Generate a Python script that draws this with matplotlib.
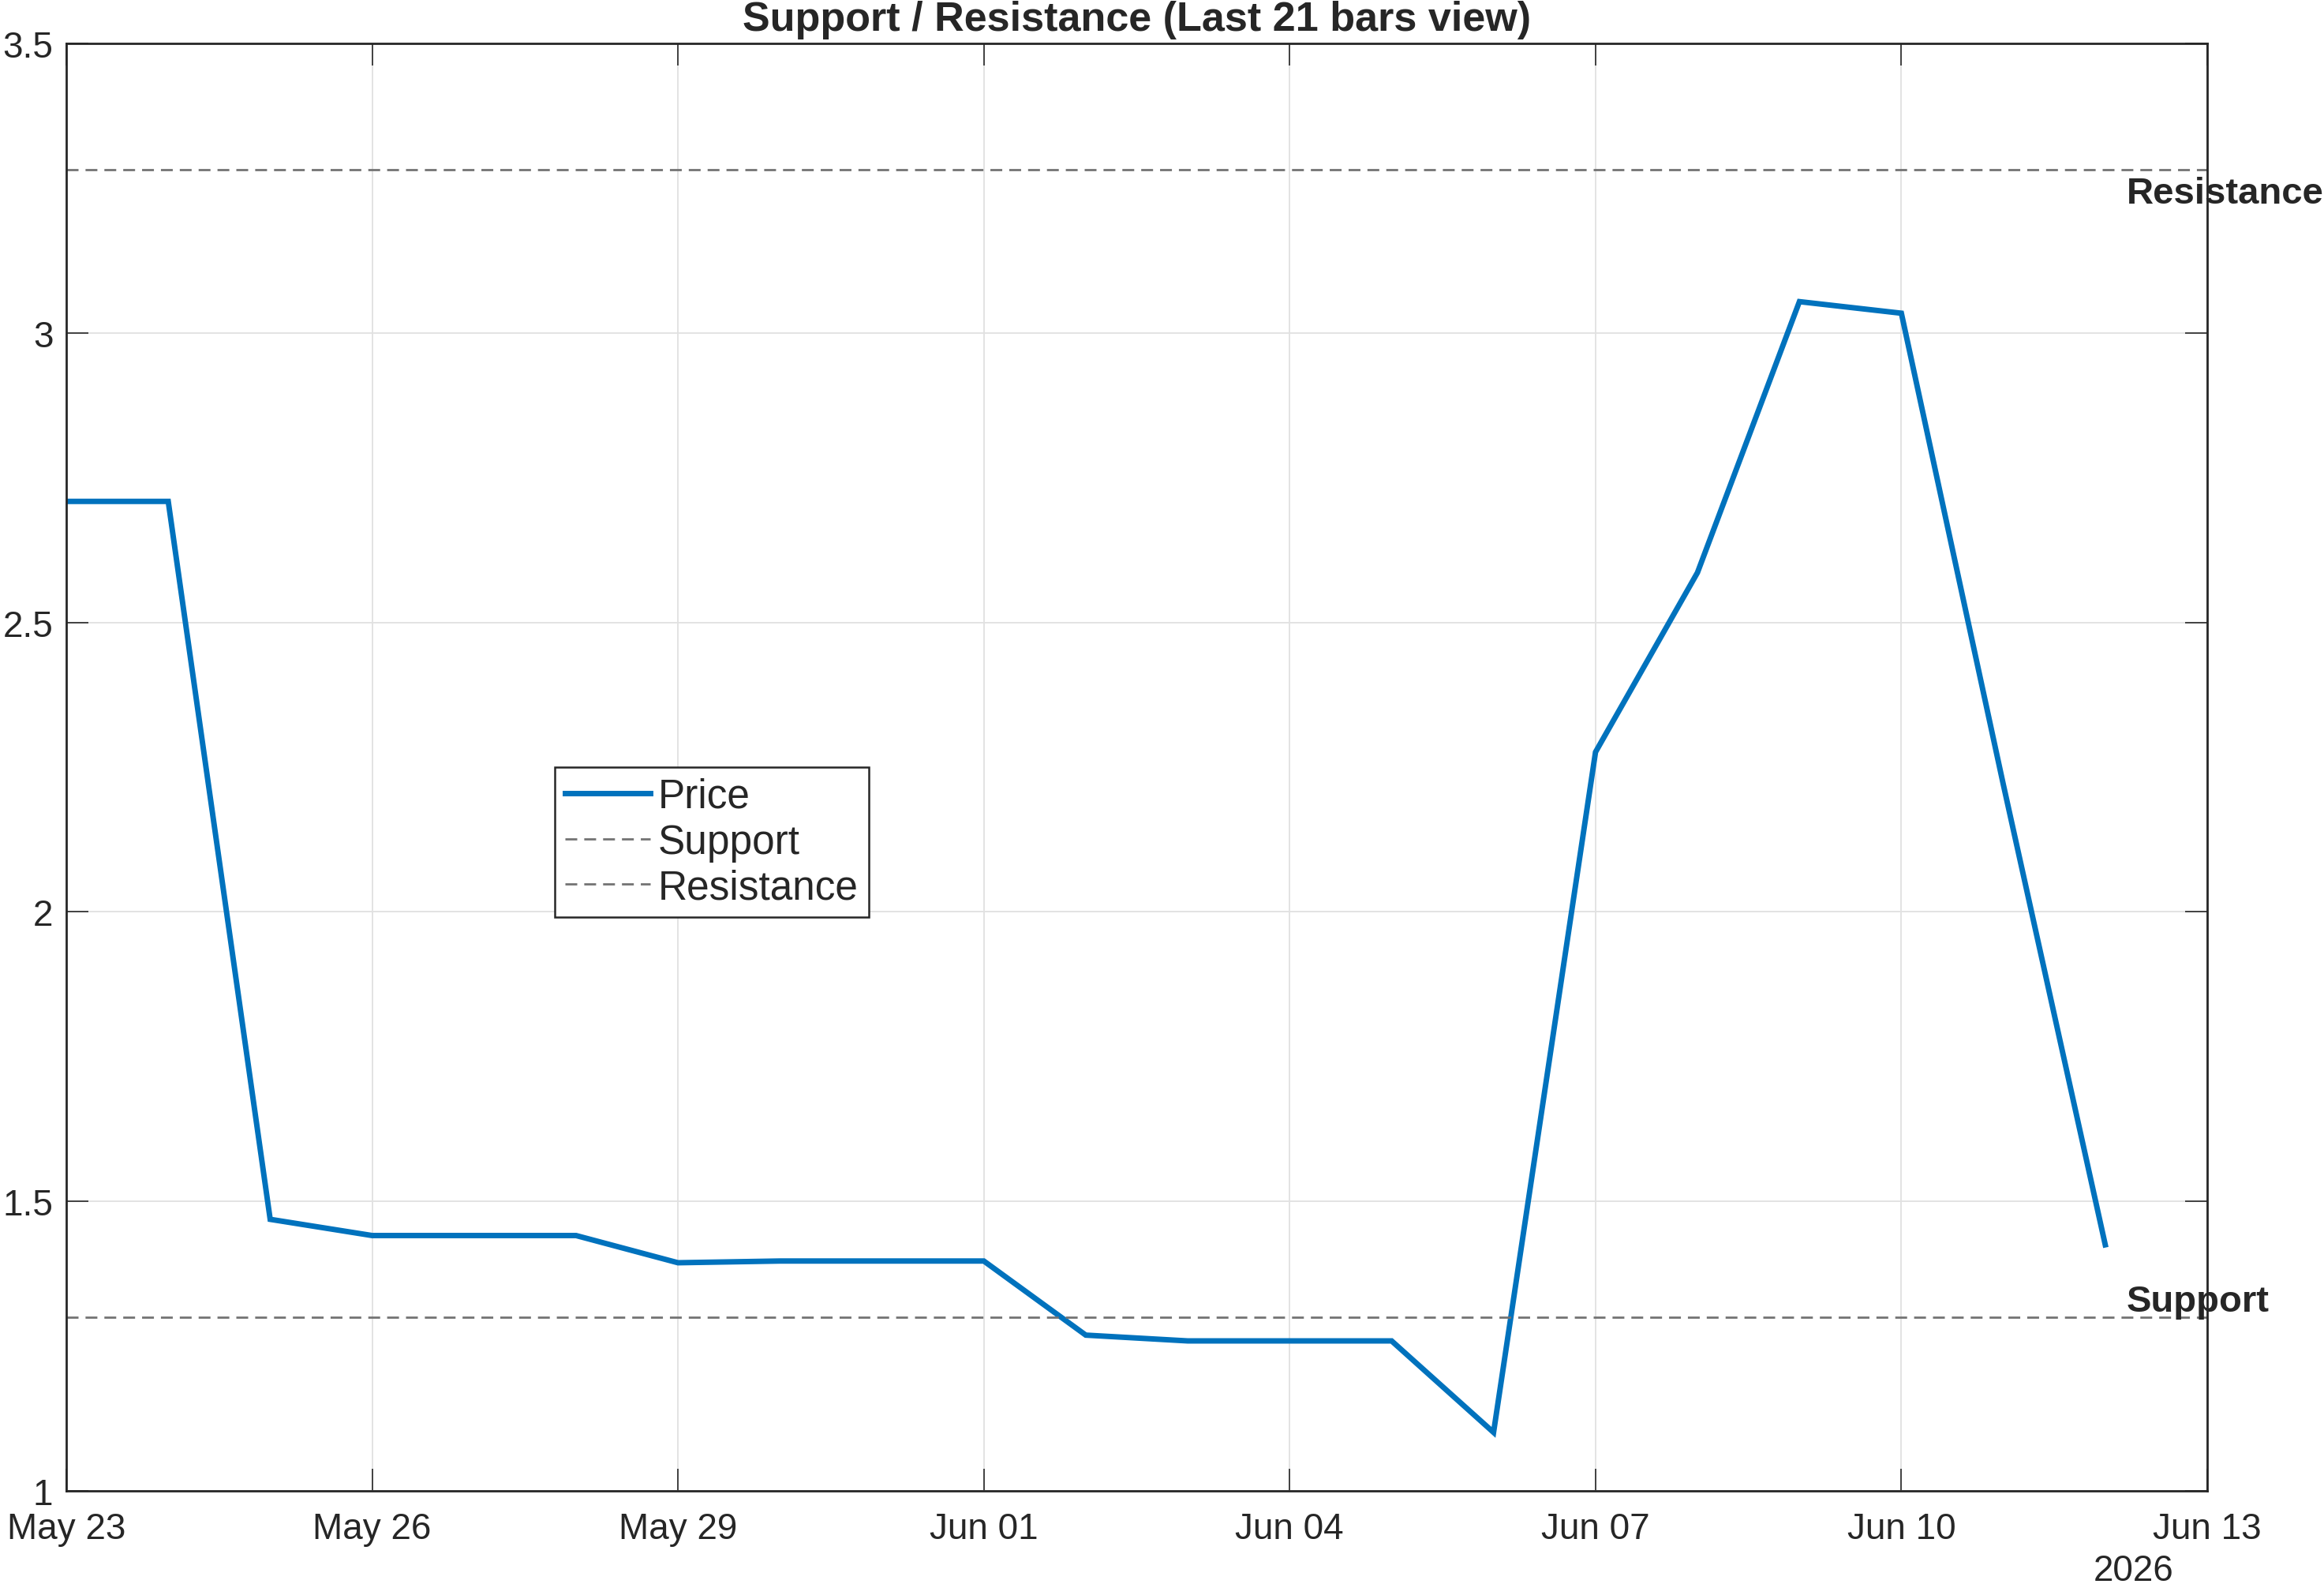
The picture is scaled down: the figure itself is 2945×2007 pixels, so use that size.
import matplotlib.pyplot as plt
import matplotlib.dates as mdates
import numpy as np

plt.rcParams['font.family'] = ['Liberation Sans', 'DejaVu Sans']

# last 21 bars
dates = ['2026-05-23', '2026-05-24', '2026-05-25', '2026-05-26', '2026-05-27',
         '2026-05-28', '2026-05-29', '2026-05-30', '2026-05-31', '2026-06-01',
         '2026-06-02', '2026-06-03', '2026-06-04', '2026-06-05', '2026-06-06',
         '2026-06-07', '2026-06-08', '2026-06-09', '2026-06-10', '2026-06-11',
         '2026-06-12']
prices = [2.709, 2.709, 1.469, 1.441, 1.441, 1.441, 1.394, 1.397, 1.397, 1.397,
          1.269, 1.259, 1.259, 1.259, 1.101, 2.276, 2.586, 3.054, 3.034, 2.22,
          1.425]
support = 1.30
resistance = 3.282

x_start = '2026-05-23'
x_end = '2026-06-13'
tick_dates = ['2026-05-23', '2026-05-26', '2026-05-29', '2026-06-01',
              '2026-06-04', '2026-06-07', '2026-06-10', '2026-06-13']
y_ticks = [1, 1.5, 2, 2.5, 3, 3.5]
y_tick_labels = ['1', '1.5', '2', '2.5', '3', '3.5']

x = np.array(dates, dtype='datetime64[D]')
txt = '#262626'
price_color = '#0072BD'
level_color = '#737373'

fig = plt.figure(figsize=(29.45, 20.08), dpi=100)
ax = fig.add_axes([84 / 2945, 1 - 1890 / 2008, (2797 - 84) / 2945, (1890 - 56) / 2008])

ax.plot(x, prices, color=price_color, linewidth=5.0, label='Price', solid_joinstyle='miter')
dash = (0, (5.4, 3.2))
ax.axhline(support, color=level_color, linewidth=2.0, linestyle=dash, label='Support')
ax.axhline(resistance, color=level_color, linewidth=2.0, linestyle=dash, label='Resistance')

# labels next to the levels
lab_x = x[-1] + np.timedelta64(5, 'h')
ax.text(lab_x, resistance - 0.011, 'Resistance', fontsize=34, fontweight='bold',
        color=txt, ha='left', va='top', clip_on=False)
ax.text(lab_x, support + 0.011, 'Support', fontsize=34, fontweight='bold',
        color=txt, ha='left', va='baseline', clip_on=False)

ax.set_xlim(np.datetime64(x_start), np.datetime64(x_end))
ax.set_ylim(1, 3.5)
ax.set_xticks(np.array(tick_dates, dtype='datetime64[D]'))
ax.xaxis.set_major_formatter(mdates.DateFormatter('%b %d'))
ax.set_yticks(y_ticks)
ax.set_yticklabels(y_tick_labels)

ax.grid(True, color='#e1e1e1', linewidth=1.3)
ax.set_axisbelow(True)
ax.tick_params(direction='in', length=20, width=1.2, colors=txt, labelsize=33,
               top=True, right=True)
ax.tick_params(axis='x', pad=19)
ax.tick_params(axis='y', pad=12)
for s in ax.spines.values():
    s.set_color(txt)
    s.set_linewidth(2.0)

ax.set_title('Support / Resistance (Last 21 bars view)', fontsize=37.5, fontweight='bold',
             color=txt, pad=12)
fig.text(2704 / 2945, 1 - 1991 / 2008, '2026', fontsize=33, color=txt, ha='center', va='center')

leg = ax.legend(loc='upper left', bbox_to_anchor=(703 / 2945, 1 - 973 / 2008),
                bbox_transform=fig.transFigure, fontsize=37, frameon=True, fancybox=False,
                framealpha=1, edgecolor=txt, borderpad=0.25, handlelength=2.1,
                handletextpad=0.2, labelspacing=0.17, borderaxespad=0)
leg.get_frame().set_linewidth(1.8)
for t in leg.get_texts():
    t.set_color(txt)

fig.savefig('out.png', dpi=100, facecolor='white')
